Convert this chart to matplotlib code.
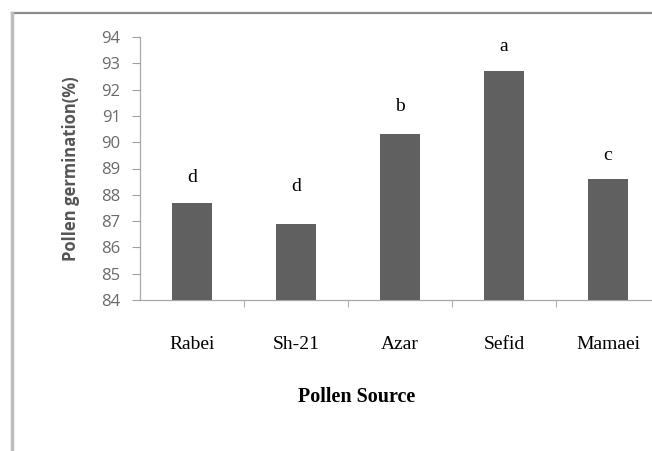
import matplotlib
matplotlib.use("Agg")
import matplotlib.pyplot as plt
from matplotlib.lines import Line2D

categories = ["Rabei", "Sh-21", "Azar", "Sefid", "Mamaei"]
germination = [87.7, 86.9, 90.3, 92.7, 88.6]
letters = ["d", "d", "b", "a", "c"]
letter_y = [88.65, 88.3, 91.35, 93.65, 89.5]
yticks = list(range(84, 95))

fig = plt.figure(figsize=(6.52, 4.51), dpi=100)
fig.patch.set_facecolor("white")

# outer frame (top and left lines)
fig.add_artist(Line2D([12/652, 1.0], [1 - 13/451, 1 - 13/451],
                      transform=fig.transFigure, color="#8a8a8a", lw=1.6))
fig.add_artist(Line2D([12/652, 12/652], [0.0, 1 - 13/451],
                      transform=fig.transFigure, color="#bdbdbd", lw=2.5))

ax = fig.add_axes([140/652, (451-300)/451, 520/652, 263/451])
x = list(range(len(categories)))
ax.bar(x, germination, width=0.39, color="#606060", zorder=3)
ax.set_xlim(-0.5, len(categories) - 0.5)
ax.set_ylim(84, 94)
ax.set_yticks(yticks)
ax.set_yticklabels([str(t) for t in yticks], fontsize=12, color="#6a6a6a",
                   family=["Open Sans", "DejaVu Sans"])
ax.tick_params(axis="y", direction="out", length=6, width=0.8, color="#a0a0a0", pad=8)

# category labels and boundary ticks
ax.set_xticks(x)
ax.set_xticklabels(categories, family="Liberation Serif", fontsize=14, color="black")
ax.tick_params(axis="x", length=0, pad=26)
ax.set_xticks([i + 0.5 for i in x], minor=True)
ax.tick_params(axis="x", which="minor", direction="out", length=5, width=0.8, color="#b0b0b0")

for s in ["top", "right"]:
    ax.spines[s].set_visible(False)
for s in ["left", "bottom"]:
    ax.spines[s].set_color("#a8a8a8")
    ax.spines[s].set_linewidth(0.9)

for xi, lab, ly in zip(x, letters, letter_y):
    ax.text(xi, ly, lab, ha="center", va="center", family="Liberation Serif",
            fontsize=14, color="black")

ax.set_ylabel("Pollen germination(%)", fontsize=12, fontweight="bold", color="#555555",
              family=["Open Sans", "DejaVu Sans"], labelpad=6)
ax.yaxis.set_label_coords(-(140 - 80) / 520, 0.5)
fig.text(357/652, 1 - 397/451, "Pollen Source", ha="center", va="center",
         family="Liberation Serif", fontweight="bold", fontsize=14.5)

fig.savefig("out.png", dpi=100)
